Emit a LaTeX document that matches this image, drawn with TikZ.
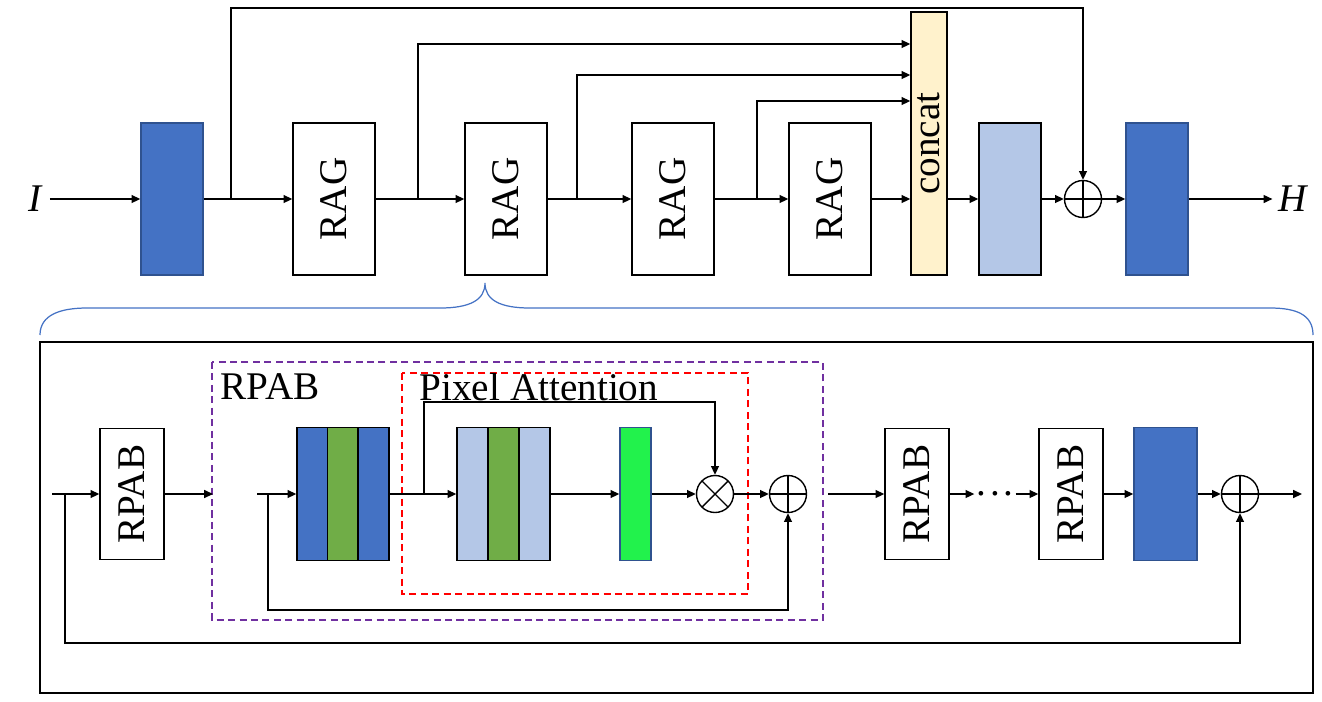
\documentclass[tikz,border=0pt]{standalone}
\usepackage{fontspec}
\setmainfont{Liberation Serif}
\usetikzlibrary{arrows.meta}
\definecolor{convblue}{HTML}{4472C4}
\definecolor{edgeblue}{HTML}{2F528F}
\definecolor{lightblue}{HTML}{B4C7E7}
\definecolor{actgreen}{HTML}{70AD47}
\definecolor{sigmoidgreen}{HTML}{22F24C}
\definecolor{concatbg}{HTML}{FFF2CC}
\definecolor{rpabpurple}{HTML}{7030A0}

\begin{document}
\begin{tikzpicture}[x=0.02cm, y=-0.02cm,
    line width=0.8pt,
    font=\fontsize{22.3}{25}\selectfont,
    block/.style={draw=black, fill=white, minimum width=1.64cm,
        minimum height=3.04cm, inner sep=0pt},
    unit/.style={draw=black, fill=white, minimum width=1.28cm,
        minimum height=2.62cm, inner sep=0pt},
    conv/.style={draw=edgeblue, fill=convblue, minimum width=1.24cm,
        minimum height=3.04cm, inner sep=0pt},
    layer/.style={draw=black, minimum width=0.62cm,
        minimum height=2.66cm, inner sep=0pt},
    concatbox/.style={draw=black, fill=concatbg, minimum width=0.72cm,
        minimum height=5.26cm, inner sep=0pt},
    sum/.style={circle, draw=black, minimum size=0.74cm, inner sep=0pt,
        path picture={\draw (path picture bounding box.north) -- (path picture bounding box.south)
            (path picture bounding box.west) -- (path picture bounding box.east);}},
    prod/.style={circle, draw=black, minimum size=0.74cm, inner sep=0pt,
        path picture={\draw (path picture bounding box.north west) -- (path picture bounding box.south east)
            (path picture bounding box.north east) -- (path picture bounding box.south west);}},
    arr/.style={-{Triangle[length=5pt, width=4.5pt]}},
    brace/.style={draw=convblue, line width=0.7pt},
    frame/.style={dash pattern=on 4pt off 2.5pt, line width=0.6pt}
]
    \useasboundingbox (0,0) rectangle (1322,701);

    % top row
    \node (in) at (36,199) {\textit{I}};
    \node[conv] (conv1) at (172,199) {};
    \node[block] (rag1) at (334,199) {\rotatebox{90}{RAG}};
    \node[block] (rag2) at (506,199) {\rotatebox{90}{RAG}};
    \node[block] (rag3) at (673,199) {\rotatebox{90}{RAG}};
    \node[block] (rag4) at (830,199) {\rotatebox{90}{RAG}};
    \node[concatbox] (concat) at (929,143.5) {\rotatebox{90}{concat}};
    \node[conv, draw=black, fill=lightblue] (fuse) at (1010,199) {};
    \node[sum] (add1) at (1083,199) {};
    \node[conv] (conv2) at (1157,199) {};
    \node (out) at (1294,199) {\textit{H}};

    \coordinate (b0) at (231,199);
    \coordinate (s0) at (231,8);
    \coordinate (b1) at (418,199);
    \coordinate (b2) at (577,199);
    \coordinate (b3) at (757,199);

    \draw[arr] (in) -- (conv1);
    \draw[arr] (conv1) -- (rag1);
    \draw[arr] (rag1) -- (rag2);
    \draw[arr] (rag2) -- (rag3);
    \draw[arr] (rag3) -- (rag4);
    \draw[arr] (rag4) -- (concat.west |- rag4);
    \draw[arr] (concat.east |- fuse) -- (fuse);
    \draw[arr] (fuse) -- (add1);
    \draw[arr] (add1) -- (conv2);
    \draw[arr] (conv2) -- (out);
    \draw[arr] (b0) -- (s0) -| (add1);
    \draw[arr] (b1) |- (concat.west |- 0,44);
    \draw[arr] (b2) |- (concat.west |- 0,75);
    \draw[arr] (b3) |- (concat.west |- 0,101);

    % brace
    \draw[brace] (40,335) .. controls (40,315) and (60,308) .. (87,308) -- (440,308)
        .. controls (470,308) and (485,300) .. (485,283)
        .. controls (485,300) and (500,308) .. (530,308) -- (1270,308)
        .. controls (1297,308) and (1313,315) .. (1313,335);

    % bottom panel
    \draw (40,342) rectangle (1313,693);
    \draw[frame, rpabpurple] (212,362) rectangle (823,620);
    \draw[frame, red] (402,373) rectangle (748,594);
    \node[anchor=base west, inner sep=0pt] (rpablbl) at (220,399) {RPAB};
    \node[anchor=base west, inner sep=0pt] (palbl) at (419,400) {Pixel Attention};

    \node[unit] (rpab1) at (132,494) {\rotatebox{90}{RPAB}};
    \node[layer, fill=convblue] (ca1) at (312.5,494) {};
    \node[layer, fill=actgreen] (ca2) at (343,494) {};
    \node[layer, fill=convblue] (ca3) at (373.5,494) {};
    \node[layer, fill=lightblue] (la1) at (472.5,494) {};
    \node[layer, fill=actgreen] (la2) at (503.5,494) {};
    \node[layer, fill=lightblue] (la3) at (534.5,494) {};
    \node[layer, draw=edgeblue, fill=sigmoidgreen] (pa) at (635.5,494) {};
    \node[prod] (mul) at (715,494) {};
    \node[sum] (add2) at (788,494) {};
    \node[unit] (rpab2) at (917,494) {\rotatebox{90}{RPAB}};
    \node[inner sep=1pt] (dots) at (995,494) {.\hspace{2pt}.\hspace{2pt}.};
    \node[unit] (rpab3) at (1071,494) {\rotatebox{90}{RPAB}};
    \node[conv, minimum width=1.26cm, minimum height=2.66cm] (conv3) at (1165.5,494) {};
    \node[sum] (add3) at (1240,494) {};

    \coordinate (a0) at (52,494);
    \coordinate (f0) at (65,494);
    \coordinate (g0) at (65,643);
    \coordinate (e1) at (213,494);
    \coordinate (a1) at (257,494);
    \coordinate (f1) at (268,494);
    \coordinate (g1) at (268,610);
    \coordinate (b5) at (424,494);
    \coordinate (s5) at (424,402);
    \coordinate (a2) at (828,494);
    \coordinate (e3) at (1302,494);

    \draw[arr] (a0) -- (rpab1);
    \draw[arr] (f0) -- (g0) -| (add3);
    \draw[arr] (rpab1) -- (e1);
    \draw[arr] (a1) -- (ca1);
    \draw[arr] (f1) -- (g1) -| (add2);
    \draw[arr] (ca3) -- (la1);
    \draw[arr] (b5) -- (s5) -| (mul);
    \draw[arr] (la3) -- (pa);
    \draw[arr] (pa) -- (mul);
    \draw[arr] (mul) -- (add2);
    \draw[arr] (a2) -- (rpab2);
    \draw[arr] (rpab2) -- (dots);
    \draw[arr] (dots) -- (rpab3);
    \draw[arr] (rpab3) -- (conv3);
    \draw[arr] (conv3) -- (add3);
    \draw[arr] (add3) -- (e3);
\end{tikzpicture}
\end{document}
